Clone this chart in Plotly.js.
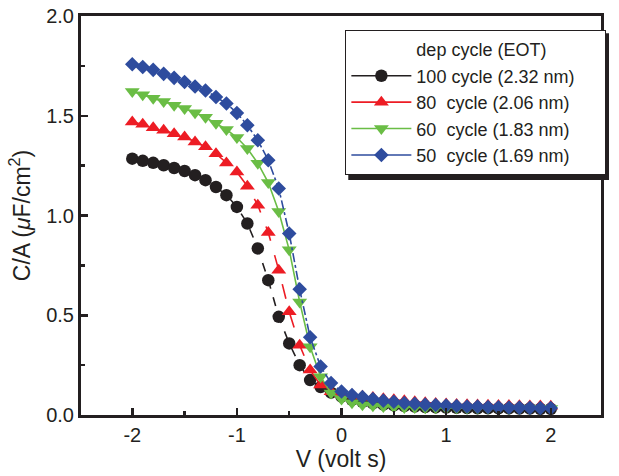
<!DOCTYPE html>
<html>
<head>
<meta charset="utf-8">
<script src="https://cdn.plot.ly/plotly-3.0.1.min.js"></script>
<style>html,body{margin:0;padding:0;background:#fff;}#chart{width:619px;height:476px;}</style>
</head>
<body>
<div id="chart"></div>
<script>
// Gate voltage (V)
const voltage = [-2.0,-1.9,-1.8,-1.7,-1.6,-1.5,-1.4,-1.3,-1.2,-1.1,-1.0,-0.9,-0.8,-0.7,-0.6,-0.5,-0.4,-0.3,-0.2,-0.1,0.0,
                 0.1,0.2,0.3,0.4,0.5,0.6,0.7,0.8,0.9,1.0,1.1,1.2,1.3,1.4,1.5,1.6,1.7,1.8,1.9,2.0];

// C/A (uF/cm^2)
const cycle100 = [1.285,1.274,1.264,1.252,1.238,1.223,1.202,1.177,1.143,1.102,1.043,0.960,0.835,0.676,0.492,0.359,0.250,0.175,0.140,0.112,0.092,
                  0.076,0.066,0.058,0.052,0.048,0.045,0.042,0.040,0.038,0.037,0.036,0.035,0.034,0.034,0.033,0.033,0.032,0.032,0.031,0.031];
const cycle80  = [1.469,1.457,1.440,1.427,1.410,1.394,1.369,1.344,1.310,1.263,1.218,1.147,1.052,0.915,0.726,0.517,0.350,0.225,0.150,0.117,0.105,
                  0.100,0.094,0.088,0.082,0.076,0.071,0.066,0.062,0.058,0.055,0.053,0.051,0.050,0.049,0.048,0.047,0.046,0.045,0.045,0.044];
const cycle60  = [1.622,1.605,1.588,1.571,1.553,1.536,1.515,1.492,1.462,1.431,1.391,1.336,1.262,1.165,1.020,0.828,0.567,0.342,0.192,0.110,0.080,
                  0.062,0.052,0.046,0.042,0.040,0.038,0.037,0.036,0.036,0.035,0.035,0.034,0.034,0.034,0.033,0.033,0.033,0.033,0.032,0.032];
const cycle50  = [1.758,1.744,1.730,1.710,1.690,1.669,1.647,1.627,1.594,1.561,1.514,1.452,1.377,1.277,1.135,0.910,0.630,0.390,0.243,0.160,0.118,
                  0.100,0.090,0.080,0.072,0.066,0.060,0.056,0.052,0.050,0.047,0.045,0.043,0.042,0.040,0.039,0.038,0.037,0.036,0.035,0.035];

const seriesNames = ['100 cycle (2.32 nm)\u00a0\u00a0\u00a0\u00a0\u00a0', '80\u00a0 cycle (2.06 nm)', '60\u00a0 cycle (1.83 nm)', '50\u00a0 cycle (1.69 nm)'];
const legendHeading = 'dep cycle (EOT)';
const xTickVals = [-2, -1, 0, 1, 2];
const xTickText = ['-2', '-1', '0', '1', '2'];

const FONT = 'Liberation Sans, Arial, Helvetica, sans-serif';

const seriesY = [cycle100, cycle80, cycle60, cycle50];
const colors = ['#231f20', '#ed1c24', '#6abd45', '#2e4c9e'];
const symbols = ['circle', 'triangle-up', 'triangle-down', 'diamond'];
const sizes = [12.5, 13, 13, 11.2];
const dashes = ['dash', 'longdash', 'solid', 'dashdot'];

const traces = [];
// data traces (drawn black first, blue on top)
seriesY.forEach((ys, i) => {
  traces.push({x: voltage, y: ys, name: seriesNames[i], mode: 'lines+markers', showlegend: false,
    line: {color: colors[i], width: 1.6, dash: dashes[i]},
    marker: {symbol: symbols[i], size: sizes[i], color: colors[i]}});
});
// legend entries (solid line samples, as in the reference legend)
traces.push({x: [null], y: [null], name: legendHeading, mode: 'lines', showlegend: true,
  line: {color: 'rgba(0,0,0,0)', width: 0}, hoverinfo: 'skip'});
seriesY.forEach((ys, i) => {
  traces.push({x: [null], y: [null], name: seriesNames[i], mode: 'lines+markers', showlegend: true,
    line: {color: colors[i], width: 1.6, dash: 'solid'},
    marker: {symbol: symbols[i], size: sizes[i], color: colors[i]}});
});

const layout = {
  width: 619, height: 476,
  margin: {l: 81, r: 18, t: 16, b: 61},
  paper_bgcolor: '#fff', plot_bgcolor: '#fff',
  font: {family: FONT, color: '#231f20', size: 20},
  showlegend: true,
  xaxis: {
    range: [-2.49, 2.48], showgrid: false, zeroline: false,
    showline: true, linecolor: '#231f20', linewidth: 3, mirror: true,
    ticks: 'inside', ticklen: 7, tickwidth: 2.5, tickcolor: '#231f20',
    tickvals: xTickVals, ticktext: xTickText,
    tickfont: {size: 20, family: FONT},
    minor: {ticks: 'inside', ticklen: 4, tickwidth: 2.5, tickcolor: '#231f20', dtick: 0.5, showgrid: false},
    title: {text: 'V (volt s)', font: {size: 23, family: FONT}, standoff: 6}
  },
  yaxis: {
    range: [0, 2.0], showgrid: false, zeroline: false,
    showline: true, linecolor: '#231f20', linewidth: 3, mirror: true,
    ticks: 'inside', ticklen: 7, tickwidth: 2.5, tickcolor: '#231f20',
    dtick: 0.5, tickformat: '.1f',
    tickfont: {size: 20, family: FONT},
    minor: {ticks: 'inside', ticklen: 4, tickwidth: 2.5, tickcolor: '#231f20', dtick: 0.25, showgrid: false},
    title: {text: 'C/A (<i>\u03bc</i>F/cm<sup>2</sup>)', font: {size: 23, family: FONT}, standoff: 10}
  },
  legend: {
    x: 0.508, y: 0.965, xanchor: 'left', yanchor: 'top',
    bgcolor: '#ffffff', bordercolor: '#231f20', borderwidth: 1.2,
    font: {size: 18, family: FONT, color: '#231f20'},
    itemwidth: 60, traceorder: 'normal', tracegroupgap: 0
  },
  shapes: [
    {type: 'rect', xref: 'paper', yref: 'paper', x0: 0.514, x1: 1.0154, y0: 0.589, y1: 0.957,
     fillcolor: '#231f20', line: {width: 0}, layer: 'above'}
  ]
};

Plotly.newPlot('chart', traces, layout, {displayModeBar: false, staticPlot: true});
</script>
</body>
</html>
